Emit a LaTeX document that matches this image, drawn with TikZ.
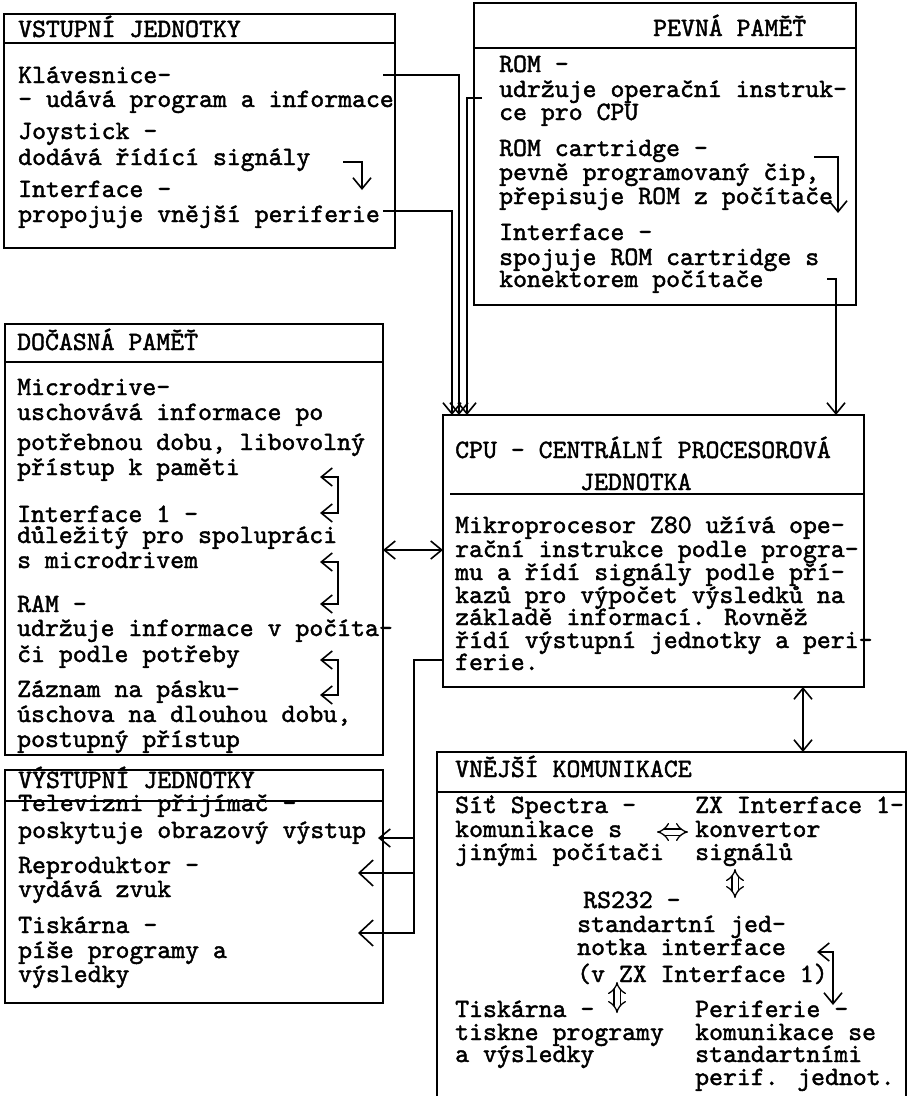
\documentclass[tikz,border=0pt]{standalone}
\usepackage{fontspec}
\usetikzlibrary{arrows.meta}
\newfontfamily\monof{lmmono10-regular}[Extension=.otf,FakeBold=1.6]
\newcommand\Tl[4]{\node[txt] (#1) at (#2,#3) {#4};}
\begin{document}
\begin{tikzpicture}[x=1pt,y=-1pt,
  >={Straight Barb[length=11pt,width=18pt]},
  big/.style={-{Straight Barb[length=14pt,width=26pt]}},
  box/.style={draw,line width=1.8pt,inner sep=0pt,outer sep=0pt,anchor=north west},
  hline/.style={line width=1.8pt},
  conn/.style={line width=1.6pt},
  txt/.style={anchor=base west,inner sep=0pt,text height=15pt,text depth=4pt,font=\fontsize{26.5pt}{25pt}\selectfont\monof},
  dbl/.style={line width=1.3pt,double distance=5pt,Implies-Implies}]
\useasboundingbox[fill=white] (0,0) rectangle (908,1096);

% ---------- boxes ----------
\node[box,minimum width=391pt,minimum height=234pt] (vst) at (4,14) {};
\node[box,minimum width=382pt,minimum height=302pt] (pev) at (474,3) {};
\node[box,minimum width=378pt,minimum height=431pt] (doc) at (5,324) {};
\node[box,minimum width=421pt,minimum height=272pt] (cpu) at (443,415) {};
\node[box,minimum width=378pt,minimum height=233pt] (vys) at (5,770) {};
\node[box,minimum width=469pt,minimum height=380pt] (vne) at (437,752) {};

\coordinate (h1) at (0,43);
\coordinate (h2) at (0,48);
\coordinate (h3) at (0,362);
\coordinate (h4) at (450,494);
\coordinate (h5) at (0,801);
\coordinate (h6) at (0,792);
\draw[hline] (vst.west |- h1) -- (vst.east |- h1);
\draw[hline] (pev.west |- h2) -- (pev.east |- h2);
\draw[hline] (doc.west |- h3) -- (doc.east |- h3);
\draw[hline] (h4) -- (cpu.east |- h4);
\draw[hline] (vys.west |- h5) -- (vys.east |- h5);
\draw[hline] (vne.west |- h6) -- (vne.east |- h6);

% ---------- VSTUPNI JEDNOTKY ----------
\Tl{a0}{18}{37}{VSTUPNÍ JEDNOTKY}
\Tl{a1}{18}{83}{Klávesnice-}
\Tl{a2}{18}{107}{- udává program a informace}
\Tl{a3}{18}{139}{Joystick -}
\Tl{a4}{18}{165}{dodává řídící signály}
\Tl{a5}{18}{197}{Interface -}
\Tl{a6}{18}{222}{propojuje vnější periferie}

% ---------- PEVNA PAMET ----------
\Tl{b0}{653}{36}{PEVNÁ PAMĚŤ}
\Tl{b1}{499}{72}{ROM -}
\Tl{b2}{499}{97}{udržuje operační instruk-}
\Tl{b3}{499}{120}{ce pro CPU}
\Tl{b4}{499}{156}{ROM cartridge -}
\Tl{b5}{499}{180}{pevně programovaný čip,}
\Tl{b6}{499}{204}{přepisuje ROM z počítače}
\Tl{b7}{499}{240}{Interface -}
\Tl{b8}{499}{265}{spojuje ROM cartridge s}
\Tl{b9}{499}{287}{konektorem počítače}

% ---------- DOCASNA PAMET ----------
\Tl{c0}{17}{350}{DOČASNÁ PAMĚŤ}
\Tl{c1}{17}{395}{Microdrive-}
\Tl{c2}{17}{420}{uschovává informace po}
\Tl{c3}{17}{450}{potřebnou dobu, libovolný}
\Tl{c4}{17}{475}{přístup k paměti}
\Tl{c5}{17}{522}{Interface 1 -}
\Tl{c6}{17}{543}{důležitý pro spolupráci}
\Tl{c7}{17}{568}{s microdrivem}
\Tl{c8}{17}{612}{RAM -}
\Tl{c9}{17}{636}{udržuje informace v počíta-}
\Tl{c10}{17}{662}{či podle potřeby}
\Tl{c11}{17}{697}{Záznam na pásku-}
\Tl{c12}{17}{722}{úschova na dlouhou dobu,}
\Tl{c13}{17}{747}{postupný přístup}

% ---------- CPU ----------
\Tl{d0}{455}{458}{CPU - CENTRÁLNÍ PROCESOROVÁ}
\Tl{d1}{580}{490}{JEDNOTKA}
\Tl{d2}{455}{533}{Mikroprocesor Z80 užívá ope-}
\Tl{d3}{455}{557}{rační instrukce podle progra-}
\Tl{d4}{455}{580}{mu a řídí signály podle pří-}
\Tl{d5}{455}{603}{kazů pro výpočet výsledků na}
\Tl{d6}{455}{625}{základě informací. Rovněž}
\Tl{d7}{455}{648}{řídí výstupní jednotky a peri-}
\Tl{d8}{455}{670}{ferie.}

% ---------- VYSTUPNI JEDNOTKY ----------
\Tl{e0}{18}{788}{VÝSTUPNÍ JEDNOTKY}
\Tl{e1}{18}{811}{Televizni přijímač -}
\Tl{e2}{18}{838}{poskytuje obrazový výstup}
\Tl{e3}{18}{873}{Reproduktor -}
\Tl{e4}{18}{897}{vydává zvuk}
\Tl{e5}{18}{933}{Tiskárna -}
\Tl{e6}{18}{958}{píše programy a}
\Tl{e7}{18}{982}{výsledky}

% ---------- VNEJSI KOMUNIKACE ----------
\Tl{f0}{455}{777}{VNĚJŠÍ KOMUNIKACE}
\Tl{f1}{455}{813}{Síť Spectra -}
\Tl{f2}{455}{837}{komunikace s}
\Tl{f3}{455}{860}{jinými počítači}
\Tl{f4}{695}{813}{ZX Interface 1-}
\Tl{f5}{695}{837}{konvertor}
\Tl{f6}{695}{860}{signálů}
\Tl{f7}{583}{908}{RS232 -}
\Tl{f8}{577}{932}{standartní jed-}
\Tl{f9}{577}{955}{notka interface}
\Tl{f10}{577}{982}{(v ZX Interface 1)}
\Tl{f11}{455}{1017}{Tiskárna -}
\Tl{f12}{455}{1040}{tiskne programy}
\Tl{f13}{455}{1062}{a výsledky}
\Tl{f14}{695}{1017}{Periferie -}
\Tl{f15}{695}{1040}{komunikace se}
\Tl{f16}{695}{1062}{standartními}
\Tl{f17}{695}{1085}{perif. jednot.}

% ---------- connectors into CPU ----------
\coordinate (k1) at (383,75);
\coordinate (k2) at (383,211);
\coordinate (k3) at (482,98);
\coordinate (k4) at (827,279);
\draw[conn,->] (k1) -| ([xshift=16pt]cpu.north west);
\draw[conn,->] (k2) -| ([xshift=9pt]cpu.north west);
\draw[conn,->] (k3) -| ([xshift=24pt]cpu.north west);
\draw[conn,->] (k4) -| ([xshift=393pt]cpu.north west);

% small brackets
\coordinate (j1) at (343,162);
\coordinate (j2) at (362,190);
\draw[conn,->] (j1) -| (j2);
\coordinate (r1) at (814,157);
\coordinate (r2) at (838,213);
\draw[conn,->] (r1) -| (r2);

\draw[conn,<->] (320,477) -- (338,477) -- (338,513) -- (320,513);
\draw[conn,<->] (320,562) -- (338,562) -- (338,604) -- (320,604);
\draw[conn,<->] (320,660) -- (338,660) -- (338,695) -- (320,695);

% DOCASNA <-> CPU
\coordinate (y550) at (0,550);
\draw[conn,<->] (doc.east |- y550) -- (cpu.west |- y550);

% CPU -> outputs
\coordinate (y660) at (0,660);
\draw[conn,big] (cpu.west |- y660) -- (414,660) -- (414,933) -- (358,933);
\draw[conn,big] (414,873) -- (358,873);
\draw[conn,->] (414,838) -- (378,838);

% CPU <-> VNEJSI
\draw[conn,<->] ([xshift=360pt]cpu.south west) -- ([xshift=366pt]vne.north west);

% inside VNEJSI
\draw[dbl] (657,832) -- (688,832);
\draw[dbl] (735,869) -- (735,898);
\draw[dbl] (617,982) -- (617,1013);
\draw[conn,<->] (817,952) -- (833,952) -- (833,1005);
\end{tikzpicture}
\end{document}
